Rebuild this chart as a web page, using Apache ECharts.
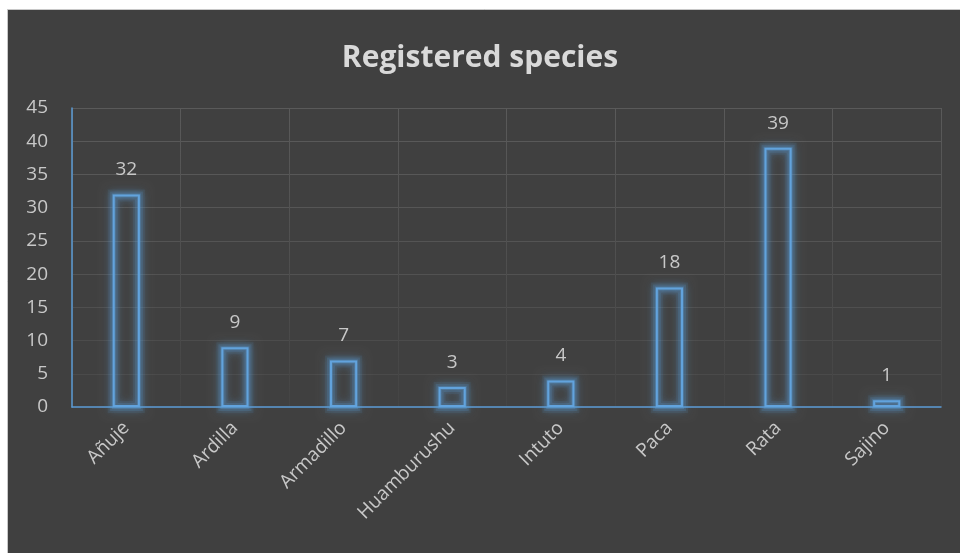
<!DOCTYPE html>
<html>
<head>
<meta charset="utf-8">
<script src="https://cdn.jsdelivr.net/npm/echarts@6/dist/echarts.min.js"></script>
<style>
  html, body { margin: 0; padding: 0; background: #ffffff; }
  #chart { width: 960px; height: 553px; }
</style>
</head>
<body>
<div id="chart"></div>
<script>
// Species names and number of registrations per species
const categories = ['Añuje', 'Ardilla', 'Armadillo', 'Huamburushu', 'Intuto', 'Paca', 'Rata', 'Sajino'];
const counts = [32, 9, 7, 3, 4, 18, 39, 1];
const yTicks = { min: 0, max: 45, interval: 5 };

const BLUE = '#5b9bd5';
const TEXT = '#c8c8c8';
const FONT = '"Open Sans", "Noto Sans", sans-serif';
const BAR_RATIO = 0.25;

// horizontal grid lines fade toward the bottom of the plot
const hLineColors = ['#474747', '#4a4a4a', '#4c4c4c', '#4f4f4f', '#525252', '#545454', '#565656', '#585858', '#595959', '#5a5a5a'];

const chart = echarts.init(document.getElementById('chart'), null, { renderer: 'canvas' });

// soft blue glow drawn around each bar outline
function renderGlow(params, api) {
  const top = api.coord([api.value(0), api.value(1)]);
  const base = api.coord([api.value(0), 0]);
  const bw = api.size([1, 0])[0] * BAR_RATIO;
  const shape = { x: top[0] - bw / 2 + 1, y: top[1] + 1, width: bw - 2, height: base[1] - top[1] - 1 };
  const layers = [[12, 0.10], [8, 0.18], [4, 0.32]];
  return {
    type: 'group',
    children: layers.map(([w, a]) => ({
      type: 'rect',
      shape: shape,
      style: {
        fill: 'none',
        stroke: 'rgba(91,155,213,' + a + ')',
        lineWidth: w,
        shadowColor: 'rgba(91,155,213,0.75)',
        shadowBlur: 8
      }
    }))
  };
}

chart.setOption({
  backgroundColor: '#ffffff',
  animation: false,
  graphic: [{
    type: 'rect',
    z: -10,
    silent: true,
    shape: { x: 7.5, y: 9.5, width: 960, height: 560 },
    style: { fill: '#404040', stroke: '#c8c8c8', lineWidth: 1 }
  }],
  title: {
    text: 'Registered species',
    left: 'center',
    top: 38,
    textStyle: { color: '#d9d9d9', fontFamily: FONT, fontWeight: 'bold', fontSize: 30 }
  },
  grid: { left: 72, right: 19, top: 108, bottom: 146, containLabel: false },
  xAxis: {
    type: 'category',
    data: categories,
    boundaryGap: true,
    axisLine: { show: true, lineStyle: { color: BLUE, width: 1.5 } },
    axisTick: { show: false },
    splitLine: {
      show: true,
      lineStyle: {
        width: 1,
        color: new echarts.graphic.LinearGradient(0, 0, 0, 1, [
          { offset: 0, color: '#5a5a5a' },
          { offset: 1, color: '#444444' }
        ])
      }
    },
    axisLabel: {
      rotate: 45,
      margin: 18,
      color: TEXT,
      fontFamily: FONT,
      fontSize: 19,
      interval: 0
    }
  },
  yAxis: {
    type: 'value',
    min: yTicks.min,
    max: yTicks.max,
    interval: yTicks.interval,
    axisLine: { show: true, lineStyle: { color: BLUE, width: 1.5 } },
    axisTick: { show: false },
    splitLine: { show: true, lineStyle: { color: hLineColors, width: 1 } },
    axisLabel: { color: TEXT, fontFamily: FONT, fontSize: 19, margin: 24 }
  },
  series: [
    {
      type: 'custom',
      silent: true,
      z: 1,
      clip: false,
      renderItem: renderGlow,
      encode: { x: 0, y: 1 },
      data: counts.map((v, i) => [i, v])
    },
    {
      type: 'bar',
      data: counts,
      barWidth: BAR_RATIO * 100 + '%',
      z: 2,
      itemStyle: {
        color: 'rgba(0,0,0,0)',
        borderColor: '#62a3dd',
        borderWidth: 2
      },
      label: {
        show: true,
        position: 'top',
        distance: 15,
        color: TEXT,
        fontFamily: FONT,
        fontSize: 19
      }
    }
  ]
});
</script>
</body>
</html>
